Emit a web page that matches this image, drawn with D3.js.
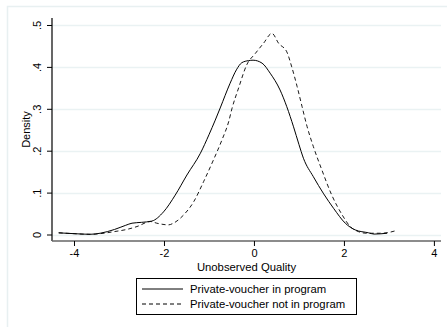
<!DOCTYPE html>
<html><head><meta charset="utf-8">
<script src="https://cdn.jsdelivr.net/npm/d3@7"></script>
<style>body{margin:0;background:#fff}svg{display:block}text{font-family:"Liberation Sans",Arial,sans-serif;fill:#000}</style>
</head><body><svg id="c" width="447" height="327"></svg>
<script>
const inProgram = [
 [-4.34,0.004],[-4.0,0.002],[-3.64,0.0005],[-3.42,0.003],[-3.1,0.012],[-2.85,0.022],[-2.71,0.027],[-2.5,0.029],[-2.27,0.032],
 [-2.01,0.054],[-1.75,0.094],[-1.49,0.142],[-1.19,0.194],[-1.0,0.238],[-0.86,0.273],
 [-0.75,0.302],[-0.53,0.361],[-0.39,0.393],[-0.27,0.410],[-0.12,0.415],[-0.02,0.416],[0.18,0.409],[0.36,0.385],
 [0.58,0.345],[0.73,0.305],[0.88,0.257],[1.0,0.215],[1.10,0.182],[1.32,0.138],[1.55,0.097],[1.77,0.0625],[2.03,0.027],
 [2.25,0.011],[2.55,0.004],[2.67,0.001],[2.96,0.003]
];
const notInProgram = [
 [-4.34,0.004],[-4.0,0.002],[-3.64,0.0005],[-3.42,0.002],[-3.1,0.007],[-2.83,0.012],[-2.6,0.019],[-2.3,0.031],
 [-2.16,0.027],[-1.90,0.023],[-1.79,0.027],[-1.56,0.047],[-1.34,0.078],[-1.12,0.126],[-0.90,0.178],[-0.71,0.226],
 [-0.56,0.270],[-0.49,0.300],[-0.34,0.350],[-0.16,0.405],[0.03,0.432],[0.21,0.456],[0.40,0.480],[0.55,0.456],
 [0.73,0.436],[0.84,0.400],[0.96,0.353],[1.07,0.305],[1.18,0.258],[1.32,0.210],[1.51,0.154],[1.73,0.094],
 [1.96,0.047],[2.14,0.019],[2.32,0.007],[2.5,0.003],[2.8,0.003],[3.0,0.005],[3.15,0.009]
];
const xTicks = [-4,-2,0,2,4];
const xTickLabels = ["-4","-2","0","2","4"];
const yTicks = [0,0.1,0.2,0.3,0.4,0.5];
const yTickLabels = ["0",".1",".2",".3",".4",".5"];
const seriesNames = ["Private-voucher in program","Private-voucher not in program"];
const xTitle = "Unobserved Quality";
const yTitle = "Density";

const svg = d3.select("#c");
const L=52,R=441,T=18,B=241;
const x = d3.scaleLinear().domain([-4.4889,4.1578]).range([L,R]);
const y = d3.scaleLinear().domain([-0.0155,0.5167]).range([B,T]);

// outer frame
svg.append("rect").attr("x",7.5).attr("y",6.5).attr("width",450).attr("height",330)
  .attr("fill","#fff").attr("stroke","#e8f0f1").attr("stroke-width",1.5);

// gridlines
svg.append("g").selectAll("line").data(yTicks).join("line")
  .attr("x1",L).attr("x2",R).attr("y1",d=>Math.round(y(d))+0.5).attr("y2",d=>Math.round(y(d))+0.5)
  .attr("stroke","#eaf2f3").attr("stroke-width",1.5);

// y axis
const ya = svg.append("g").attr("transform",`translate(${L},0)`)
  .call(d3.axisLeft(y).tickValues(yTicks).tickSize(5).tickFormat((d,i)=>yTickLabels[i]));
ya.select(".domain").attr("stroke","#000").attr("stroke-width",1.2).attr("d",`M-0,${T}V${B}`);
ya.selectAll(".tick line").attr("stroke","#000");
ya.selectAll(".tick text").attr("font-size",11).attr("text-anchor","middle")
  .attr("transform","rotate(-90)").attr("x",0).attr("y",-11).attr("dy","0")
  .attr("font-family","Liberation Sans, Arial, sans-serif");

// x axis
const xa = svg.append("g").attr("transform",`translate(0,${B})`)
  .call(d3.axisBottom(x).tickValues(xTicks).tickSize(5).tickFormat((d,i)=>xTickLabels[i]));
xa.select(".domain").attr("stroke","#666").attr("stroke-width",1.5).attr("d",`M${L},0H${R}`);
xa.selectAll(".tick line").attr("stroke","#000");
xa.selectAll(".tick text").attr("font-size",11).attr("y",8).attr("dy","0.71em")
  .attr("font-family","Liberation Sans, Arial, sans-serif");

// titles
svg.append("text").attr("x",(L+R)/2).attr("y",271).attr("text-anchor","middle").attr("font-size",11.3).text(xTitle);
svg.append("text").attr("transform",`translate(30,${(T+B)/2}) rotate(-90)`).attr("text-anchor","middle").attr("font-size",11).text(yTitle);

// lines
const line = d3.line().x(d=>x(d[0])).y(d=>y(d[1])).curve(d3.curveMonotoneX);
svg.append("path").datum(inProgram).attr("d",line).attr("fill","none").attr("stroke","#000").attr("stroke-width",1);
svg.append("path").datum(notInProgram).attr("d",line).attr("fill","none").attr("stroke","#000").attr("stroke-width",0.9).attr("stroke-dasharray","4,3");

// legend
const lg = svg.append("g");
lg.append("rect").attr("x",136.5).attr("y",278.5).attr("width",220).attr("height",36).attr("fill","#fff").attr("stroke","#000").attr("stroke-width",1);
const dashes = [null,"4,3"];
seriesNames.forEach((n,i)=>{
  const yy = 289 + i*15;
  lg.append("line").attr("x1",142).attr("x2",183).attr("y1",yy).attr("y2",yy).attr("stroke","#000").attr("stroke-dasharray",dashes[i]);
  lg.append("text").attr("x",190).attr("y",yy+4).attr("font-size",11.3).text(n);
});
</script></body></html>
